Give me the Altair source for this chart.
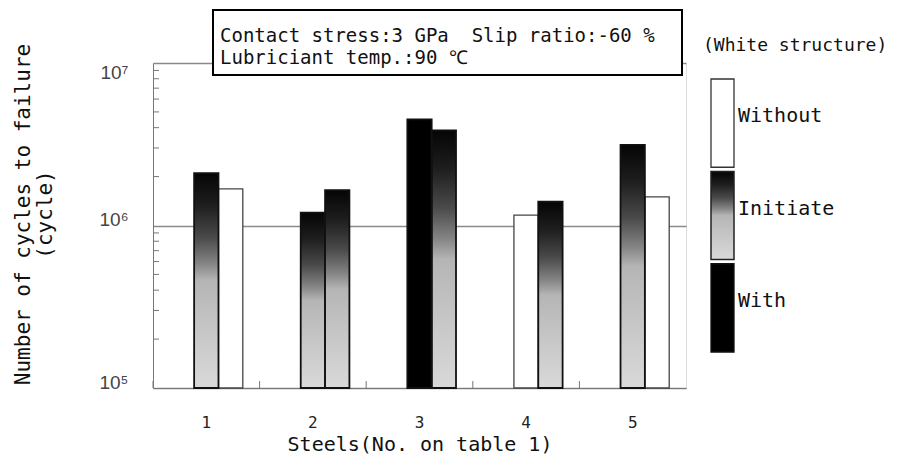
import altair as alt
import pandas as pd

# ---- data ----
STEELS = ["1", "2", "3", "4", "5"]
SLOTS = ["a", "b", "c"]
BAR_STEEL = ["1", "1", "2", "2", "3", "3", "4", "4", "5", "5"]
BAR_SLOT = ["b", "c", "b", "c", "b", "c", "b", "c", "b", "c"]
BAR_TYPE = ["Initiate", "Without", "Initiate", "Initiate", "With",
            "Initiate", "Without", "Initiate", "Initiate", "Without"]
BAR_CYCLES = [2.10e6, 1.68e6, 1.20e6, 1.65e6, 4.50e6,
              3.85e6, 1.16e6, 1.40e6, 3.13e6, 1.50e6]

Y_TICKS = [1e5, 1e6, 1e7]
Y_TICK_LABELS = ["10\u2075", "10\u2076", "10\u2077"]
Y_MINOR = [2e5, 3e5, 4e5, 5e5, 6e5, 7e5, 8e5, 9e5,
           2e6, 3e6, 4e6, 5e6, 6e6, 7e6, 8e6, 9e6]

LEGEND_LABELS = ["Without", "Initiate", "With"]
LEGEND_TITLE = "(White structure)"
ANNOTATION = ["Contact stress:3 GPa \u00a0Slip ratio:-60 %", "Lubriciant temp.:90 \u2103"]
X_TITLE = "Steels(No. on table 1)"
Y_TITLE = ["Number of cycles to failure", "(cycle)"]

MONO = "DejaVu Sans Mono"
W, H = 533, 325

bars = pd.DataFrame({"steel": BAR_STEEL, "slot": BAR_SLOT,
                     "type": BAR_TYPE, "cycles": BAR_CYCLES})
minor_df = pd.DataFrame({"cycles": Y_MINOR})
steel_df = pd.DataFrame({"steel": STEELS})
one = pd.DataFrame({"k": [0]})
legend_df = pd.DataFrame({"label": LEGEND_LABELS})

label_expr = " : ".join(
    f"datum.value == {v:g} ? '{t}'" for v, t in zip(Y_TICKS[:-1], Y_TICK_LABELS[:-1])
) + f" : '{Y_TICK_LABELS[-1]}'"

x_scale = alt.Scale(domain=STEELS, paddingInner=0, paddingOuter=0)
x_axis = alt.Axis(title=X_TITLE, ticks=False, tickSize=0, labelAngle=0,
                  labelPadding=26, labelFont=MONO, labelFontSize=16,
                  labelColor="#222", titleFont=MONO, titleFontSize=20,
                  titleFontWeight="normal", titleColor="#111", titlePadding=4,
                  domainColor="#777", grid=False)
y_scale = alt.Scale(type="log", domain=[1e5, 1e7], nice=False)
y_axis = alt.Axis(title=Y_TITLE, values=Y_TICKS, labelExpr=label_expr,
                  ticks=False, tickSize=0, labelPadding=25,
                  labelFont="Liberation Sans", labelFontSize=19, labelColor="#444",
                  labelBaseline={"condition": {"test": f"datum.value == {Y_TICKS[-1]:g}",
                                               "value": "top"},
                                 "value": "alphabetic"},
                  titleFont=MONO, titleFontSize=21, titleFontWeight="normal",
                  titleColor="#111", titleLineHeight=22, titlePadding=43,
                  titleY=151, titleAlign="center",
                  grid=True, gridColor="#8a8a8a", gridWidth=1.5,
                  domainColor="#777")

X = alt.X("steel:N", scale=x_scale, axis=x_axis)
XO = alt.XOffset("slot:N", scale=alt.Scale(domain=SLOTS, paddingInner=0, paddingOuter=0.69))
Y = alt.Y("cycles:Q", scale=y_scale, axis=y_axis)

base = alt.Chart(bars).encode(x=X, xOffset=XO, y=Y, y2=alt.datum(1e5))

gradient = alt.LinearGradient(
    gradient="linear", x1=0, x2=0, y1=0, y2=1,
    stops=[alt.GradientStop(color="#050505", offset=0),
           alt.GradientStop(color="#1e1e1e", offset=0.15),
           alt.GradientStop(color="#4a4a4a", offset=0.3),
           alt.GradientStop(color="#848484", offset=0.42),
           alt.GradientStop(color="#b5b5b5", offset=0.5),
           alt.GradientStop(color="#c4c4c4", offset=0.7),
           alt.GradientStop(color="#d9d9d9", offset=1)])

bar_without = base.transform_filter(alt.datum.type == "Without").mark_bar(
    fill="white", stroke="#444", strokeWidth=1.3)
bar_initiate = base.transform_filter(alt.datum.type == "Initiate").mark_bar(
    fill=gradient, stroke="#111", strokeWidth=1.8)
bar_with = base.transform_filter(alt.datum.type == "With").mark_bar(
    fill="black", stroke="#111", strokeWidth=1.8)

x_ticks = alt.Chart(steel_df).mark_rule(color="#777", strokeWidth=1).encode(
    x=alt.X("steel:N", scale=x_scale, axis=x_axis, bandPosition=0),
    y=alt.value(H), y2=alt.value(H - 7))

y_minor = alt.Chart(minor_df).mark_rule(color="#777", strokeWidth=1).encode(
    y=Y, x=alt.value(0), x2=alt.value(6))

box = alt.Chart(one).mark_rect(fill="white", stroke="black", strokeWidth=2).encode(
    x=alt.value(60), x2=alt.value(529), y=alt.value(-53), y2=alt.value(12))
box_text = alt.Chart(one).mark_text(
    align="left", baseline="middle", font=MONO, fontSize=19, color="#111",
    lineHeight=22, text=ANNOTATION).encode(x=alt.value(67), y=alt.value(-27))

leg_title = alt.Chart(one).mark_text(
    align="left", baseline="middle", font=MONO, fontSize=18, color="#111",
    text=LEGEND_TITLE).encode(x=alt.value(550), y=alt.value(-17))

main = alt.layer(y_minor, bar_without, bar_initiate, bar_with, x_ticks,
                 box, box_text, leg_title)

LY = alt.Y("label:N", scale=alt.Scale(domain=LEGEND_LABELS, range=[16, 289],
                                      paddingInner=0.045, paddingOuter=0),
           axis=None)
leg_base = alt.Chart(legend_df).encode(y=LY, x=alt.value(558), x2=alt.value(581))
leg_without = leg_base.transform_filter(alt.datum.label == "Without").mark_rect(
    fill="white", stroke="#333", strokeWidth=1.3)
leg_initiate = leg_base.transform_filter(alt.datum.label == "Initiate").mark_rect(
    fill=gradient, stroke="#222", strokeWidth=1.5)
leg_with = leg_base.transform_filter(alt.datum.label == "With").mark_rect(
    fill="black", stroke="#111", strokeWidth=1.3)
leg_text = alt.Chart(legend_df).mark_text(
    align="left", baseline="middle", font=MONO, fontSize=20, color="#111", dy=-7
).encode(y=LY, x=alt.value(585), text="label:N")

legend = alt.layer(leg_without, leg_initiate, leg_with, leg_text)

chart = alt.layer(main, legend).resolve_scale(y="independent").properties(
    width=W, height=H,
    padding={"left": 4, "top": 1, "right": 0, "bottom": 0},
).configure_view(stroke="#666", strokeWidth=1).configure(background="white")

chart.save("out.html", embed_options={"renderer": "svg", "actions": False})
